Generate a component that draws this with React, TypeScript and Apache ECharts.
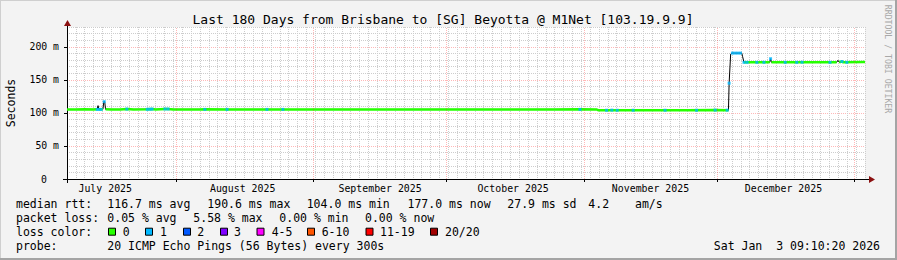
import React, { useEffect, useRef } from "react";
import * as echarts from "echarts";

// ---------- data ----------
const START = Date.UTC(2025, 6, 7, 9, 10, 20); // Jul 7 2025 09:10:20 (180 days before end)
const DAY_MS = 86400000;
const toDay = (y: number, m: number, d: number) => (Date.UTC(y, m, d) - START) / DAY_MS;

const monthStartDates: [number, number, number][] = [
  [2025, 7, 1], [2025, 8, 1], [2025, 9, 1], [2025, 10, 1], [2025, 11, 1], [2026, 0, 1],
];
const monthLabelDates: [number, number, number][] = [
  [2025, 6, 16], [2025, 7, 16], [2025, 8, 16], [2025, 9, 16], [2025, 10, 16], [2025, 11, 16],
];
const monthLabels = ["July 2025", "August 2025", "September 2025", "October 2025", "November 2025", "December 2025"];
const yLabelValues = [0, 50, 100, 150, 200];

// median rtt (ms) as [day offset, value]
const medianPts: [number, number][] = [
  [0, 105.3], [2, 105.2], [4, 105.4], [6, 105.3], [6.8, 105.6], [7.0, 111], [7.2, 105.4],
  [8.1, 105.5], [8.3, 117], [8.5, 117], [8.7, 105.4], [10, 105.3], [12, 105.2], [13.5, 105.8],
  [15, 105.3], [18, 105.6], [19.2, 105.8], [20, 105.3], [22.1, 105.9], [22.8, 105.9], [24, 105.3],
  [30, 105.3], [31.1, 105.4], [36, 105.3], [45, 105.3], [50, 105.2], [60, 105.3], [70, 105.2],
  [80, 105.3], [90, 105.3], [100, 105.2], [110, 105.3], [115.7, 105.4], [119.5, 105.2],
  [119.8, 104.1], [125, 104.0], [130, 104.1], [135, 104.0], [140, 104.0], [146.2, 104.3],
  [148.9, 104.2], [149.2, 104.1], [149.35, 145], [149.7, 189], [150.0, 190.6], [150.6, 190.5],
  [151.4, 190.5], [152.2, 190.5], [152.4, 185], [152.7, 176.5], [155.6, 176.5], [158.5, 176.6],
  [158.7, 182], [158.9, 176.6], [162, 176.5], [165.8, 176.7], [170, 176.5], [173.6, 176.5],
  [173.9, 179.5], [174.2, 176.6], [174.8, 177.8], [175.1, 176.5], [180, 177.0],
];
// stretches where the loss-0 colour is not drawn (steep transitions)
const greenBreaks: [number, number][] = [
  [6.9, 7.1], [8.2, 8.6], [149.25, 152.25], [152.3, 152.65], [158.6, 158.8], [173.8, 174.0],
];
// samples with 1/20 loss
const lossOnePts: [number, number][] = [
  [6.8, 105.3], [7.2, 105.3], [7.7, 105.3], [8.4, 117], [13.5, 105.8], [18.1, 105.4],
  [18.7, 105.6], [19.2, 105.8], [22.1, 105.9], [22.8, 105.9], [31.1, 105.3], [36.1, 105.3],
  [45.1, 105.3], [48.7, 105.3], [115.7, 105.3], [121.7, 104.0], [122.9, 104.2], [124.1, 104.0],
  [127.7, 104.0], [134.9, 104.0], [142.0, 104.0], [146.2, 104.3], [148.9, 104.2], [149.35, 145],
  [150.1, 190.5], [150.7, 190.5], [151.3, 190.5], [151.9, 190.5], [152.7, 176.5], [153.4, 176.5],
  [155.6, 176.5], [157.2, 176.5], [158.7, 182], [162, 176.5], [164.6, 176.5], [165.8, 176.7],
  [172.1, 176.5], [174.8, 177.8], [175.9, 176.5],
];

const titleText = "Last 180 Days from Brisbane to [SG] Beyotta @ M1Net [103.19.9.9]";
const medianRow = ["median rtt:", "116.7 ms avg", "190.6 ms max", "104.0 ms min", "177.0 ms now", "27.9 ms sd", "4.2", "am/s"];
const lossRow = ["packet loss:", "0.05 % avg", "5.58 % max", "0.00 % min", "0.00 % now"];
const lossColorLabel = "loss color:";
const lossColorNames = ["0", "1", "2", "3", "4-5", "6-10", "11-19", "20/20"];
const lossColorValues = ["#26ff00", "#00b8ff", "#0059ff", "#7e00ff", "#ff00ff", "#ff5500", "#ff0000", "#a10000"];
const probeRow = ["probe:", "20 ICMP Echo Pings (56 Bytes) every 300s"];
const dateText = "Sat Jan  3 09:10:20 2026";
const sideText = "RRDTOOL / TOBI OETIKER";

// ---------- layout ----------
const FONT = "'DejaVu Sans Mono', monospace";
const W = 897;
const H = 260;
const medianX = [16, 107.3, 207.3, 306.7, 407.5, 507.3, 588.3, 635];
const lossX = [16, 107.3, 193.3, 279.3, 365];
const boxX = [108, 145, 183, 220, 256.5, 307, 365.5, 430];
const boxLabelX = [122.7, 160, 197.3, 234, 271.7, 321.7, 380, 445];
const rowY = [204, 218.3, 231.7, 246];

export default function App() {
  const ref = useRef<HTMLDivElement>(null);
  useEffect(() => {
    document.body.style.margin = "0";
    if (!ref.current) return;
    const chart = echarts.init(ref.current, undefined, { renderer: "svg" });

    const monthStartDays = monthStartDates.map(([y, m, d]) => toDay(y, m, d));
    const midDays = monthLabelDates.map(([y, m, d]) => toDay(y, m, d));
    const inBreak = (d: number) => greenBreaks.some(([a, b]) => d > a && d < b);
    const greenPts = medianPts.map(([d, v]) => (inBreak(d) ? [d, null] : [d, v]));

    const txt = (x: number, y: number, text: string, extra: any = {}) => ({
      type: "text",
      x,
      y,
      silent: true,
      style: {
        text,
        x: 0,
        y: 0,
        fill: "#000",
        font: `11.5px ${FONT}`,
        textAlign: "left",
        align: "left",
        textVerticalAlign: "middle",
        verticalAlign: "middle",
        ...extra,
      },
    });

    const graphics: any[] = [
      // frame
      { type: "line", shape: { x1: 0, y1: 0.5, x2: W, y2: 0.5 }, style: { stroke: "#cfcfcf", lineWidth: 1 }, silent: true },
      { type: "line", shape: { x1: 0.5, y1: 0, x2: 0.5, y2: H }, style: { stroke: "#cfcfcf", lineWidth: 1 }, silent: true },
      { type: "line", shape: { x1: 0, y1: H - 1, x2: W, y2: H - 1 }, style: { stroke: "#a4a4a4", lineWidth: 2 }, silent: true },
      { type: "line", shape: { x1: W - 1, y1: 0, x2: W - 1, y2: H }, style: { stroke: "#a4a4a4", lineWidth: 2 }, silent: true },
      // axis extensions + arrows
      { type: "line", shape: { x1: 67.5, y1: 183, x2: 67.5, y2: 22 }, style: { stroke: "#000", lineWidth: 1 }, silent: true },
      { type: "line", shape: { x1: 63, y1: 179.5, x2: 870, y2: 179.5 }, style: { stroke: "#000", lineWidth: 1 }, silent: true },
      { type: "polygon", shape: { points: [[64, 26], [71, 26], [67.5, 20]] }, style: { fill: "#8b1010" }, silent: true },
      { type: "polygon", shape: { points: [[869, 176], [869, 183], [875, 179.5]] }, style: { fill: "#8b1010" }, silent: true },
      // title & side texts
      txt(443, 19, titleText, { font: `13px ${FONT}`, textAlign: "center", align: "center" }),
      { ...txt(11, 103, "Seconds", { textAlign: "center", align: "center" }), rotation: Math.PI / 2 },
      { ...txt(888, 59, sideText, { font: `8.2px ${FONT}`, fill: "#a8a8a8", textAlign: "center", align: "center" }), rotation: -Math.PI / 2 },
    ];
    medianRow.forEach((t, i) => graphics.push(txt(medianX[i], rowY[0], t)));
    lossRow.forEach((t, i) => graphics.push(txt(lossX[i], rowY[1], t)));
    graphics.push(txt(16, rowY[2], lossColorLabel));
    lossColorNames.forEach((t, i) => {
      graphics.push({
        type: "rect",
        shape: { x: boxX[i] + 0.5, y: rowY[2] - 3.5, width: 7, height: 7 },
        style: { fill: lossColorValues[i], stroke: "#000", lineWidth: 1 },
        silent: true,
      });
      graphics.push(txt(boxLabelX[i], rowY[2], t));
    });
    graphics.push(txt(16, rowY[3], probeRow[0]));
    graphics.push(txt(107.3, rowY[3], probeRow[1]));
    graphics.push(txt(880, rowY[3], dateText, { textAlign: "right", align: "right" }));

    const RED = "rgba(255,40,40,0.33)";
    const GRAY = "#cdcdcd";

    chart.setOption({
      animation: false,
      backgroundColor: "#f3f3f3",
      grid: { left: 67, top: 27, width: 798, height: 152, show: true, backgroundColor: "#ffffff", borderWidth: 0 },
      xAxis: [
        {
          type: "value", min: 0, max: 180, interval: 2,
          axisLine: { show: true, onZero: false, lineStyle: { color: "#000", width: 1 } },
          axisTick: { show: false }, axisLabel: { show: false },
          splitLine: { show: true, lineStyle: { color: GRAY, type: [1, 1], width: 1 } },
        },
        {
          type: "value", min: 0, max: 180, position: "bottom",
          axisLine: { show: false }, splitLine: { show: false },
          axisTick: { show: true, customValues: monthStartDays, length: 3, lineStyle: { color: "#000" } },
          axisLabel: {
            show: true, customValues: midDays, margin: 4, color: "#000", fontFamily: FONT, fontSize: 9.9,
            formatter: (v: number) => {
              const i = midDays.findIndex((d) => Math.abs(d - v) < 1e-6);
              return i >= 0 ? monthLabels[i] : "";
            },
          },
        },
      ],
      yAxis: [
        {
          type: "value", min: 0, max: 230, interval: 10,
          axisLine: { show: true, onZero: false, lineStyle: { color: "#000" } },
          axisTick: { show: false }, axisLabel: { show: false },
          splitLine: { show: true, lineStyle: { color: [RED, GRAY, GRAY, GRAY, GRAY], type: [1, 1], width: 1 } },
        },
        {
          type: "value", min: 0, max: 230, position: "left",
          axisLine: { show: false }, splitLine: { show: false },
          axisTick: { show: true, customValues: yLabelValues, length: 3, lineStyle: { color: "#000" } },
          axisLabel: {
            show: true, customValues: yLabelValues, margin: 8, color: "#000", fontFamily: FONT, fontSize: 9.8,
            formatter: (v: number) => (v === 0 ? "{z|0}" : `${v} m`),
            rich: { z: { padding: [0, 12, 0, 0], fontFamily: FONT, fontSize: 9.8, color: "#000" } },
          },
        },
      ],
      series: [
        {
          type: "line", xAxisIndex: 0, yAxisIndex: 0, data: medianPts, showSymbol: false, z: 3,
          lineStyle: { color: "#000", width: 1 }, silent: true,
          markLine: {
            silent: true, symbol: "none", label: { show: false },
            lineStyle: { color: RED, type: [1, 1], width: 1 },
            data: monthStartDays.map((d) => ({ xAxis: d })),
          },
        },
        {
          type: "line", xAxisIndex: 0, yAxisIndex: 0, data: greenPts, showSymbol: false, connectNulls: false, z: 4,
          lineStyle: { color: "#26ff00", width: 2.5 }, silent: true,
        },
        {
          type: "scatter", xAxisIndex: 0, yAxisIndex: 0, data: lossOnePts, symbol: "rect", symbolSize: [3, 3], z: 5,
          itemStyle: { color: "#00b8ff" }, silent: true,
        },
      ],
      graphic: graphics,
    });
    return () => chart.dispose();
  }, []);
  return <div ref={ref} style={{ width: W, height: H }} />;
}
